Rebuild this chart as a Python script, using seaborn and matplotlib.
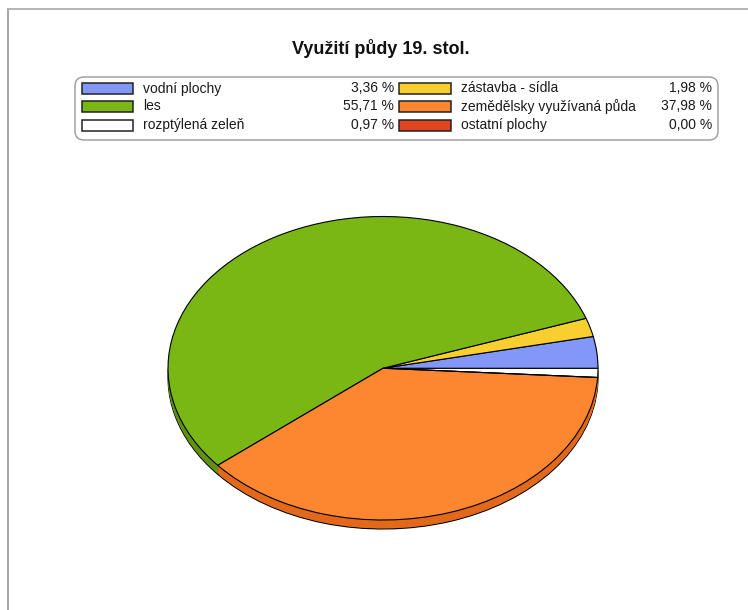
import matplotlib
matplotlib.use("Agg")
import matplotlib.pyplot as plt
import seaborn as sns
from matplotlib.patches import FancyBboxPatch, Rectangle

# ---- data ----
title = "Využití půdy 19. stol."
categories = ["vodní plochy", "les", "rozptýlená zeleň",
              "zástavba - sídla", "zemědělsky využívaná půda", "ostatní plochy"]
values = [3.36, 55.71, 0.97, 1.98, 37.98, 0.00]
colors = ["#8297F7", "#7AB614", "#FFFFFF", "#F8CF2E", "#FD8631", "#E0451F"]
side_colors = ["#5F74D0", "#5E9210", "#D8D8D8", "#D0A820", "#E2691C", "#B0301A"]
pie_order = [2, 0, 3, 1, 4, 5]   # drawing order counter-clockwise

sns.set_theme(style="white")
plt.rcParams['font.family'] = ['Liberation Sans', 'DejaVu Sans']

W, H = 748, 610
fig = plt.figure(figsize=(W / 100, H / 100), dpi=100)
fig.patch.set_facecolor("white")

# background axes in pixel coordinates
bg = fig.add_axes([0, 0, 1, 1])
bg.set_xlim(0, W)
bg.set_ylim(H, 0)
bg.axis("off")
bg.plot([8.5, W], [9, 9], color="#A8A8A8", lw=1.2)
bg.plot([8.5, 8.5], [9, H], color="#A8A8A8", lw=1.5)

bg.text(381, 48, title, ha="center", va="center", fontsize=13, fontweight="bold",
        color="#111111")

# legend
bg.add_patch(FancyBboxPatch((75, 77), 643, 63, boxstyle="round,pad=0,rounding_size=9",
                            fc="white", ec="#9A9A9A", lw=1.0))
rows_y = [88.5, 106.5, 125]
cols = [dict(sw=82, sw_w=51, lab=143, pct=394), dict(sw=399, sw_w=52, lab=461, pct=712)]
for i, (cat, val, col) in enumerate(zip(categories, values, colors)):
    c = cols[i // 3]
    y = rows_y[i % 3]
    bg.add_patch(Rectangle((c["sw"], y - 5.5), c["sw_w"], 11, fc=col, ec="#222222", lw=1.1))
    bg.text(c["lab"], y, cat, ha="left", va="center", fontsize=10, color="#1A1A1A")
    pct = f"{val:.2f}".replace(".", ",") + " %"
    bg.text(c["pct"], y, pct, ha="right", va="center", fontsize=10, color="#1A1A1A")

# pie (elliptical, pseudo 3D)
b = 151.75
thick = 9.0
d = thick / b
pax = fig.add_axes([168 / W, 1 - 529 / H, 430 / W, (303.5 + thick) / H])
vals = [values[k] for k in pie_order]
cols_top = [colors[k] for k in pie_order]
cols_side = [side_colors[k] for k in pie_order]
start = -values[2] * 3.6

pax.pie(vals, colors=cols_side, startangle=start, counterclock=True, radius=1,
        center=(0, -d), wedgeprops=dict(edgecolor="black", linewidth=0.8))
n = 12
for k in range(n - 1, 0, -1):
    pax.pie(vals, colors=cols_side, startangle=start, counterclock=True, radius=1,
            center=(0, -d * k / n), wedgeprops=dict(edgecolor="none", linewidth=0))
pax.pie(vals, colors=cols_top, startangle=start, counterclock=True, radius=1,
        center=(0, 0), wedgeprops=dict(edgecolor="black", linewidth=0.8))
pax.set_aspect("auto")
pax.set_xlim(-1, 1)
pax.set_ylim(-1 - d, 1)
pax.axis("off")

fig.savefig("out.png", dpi=100, facecolor="white")
